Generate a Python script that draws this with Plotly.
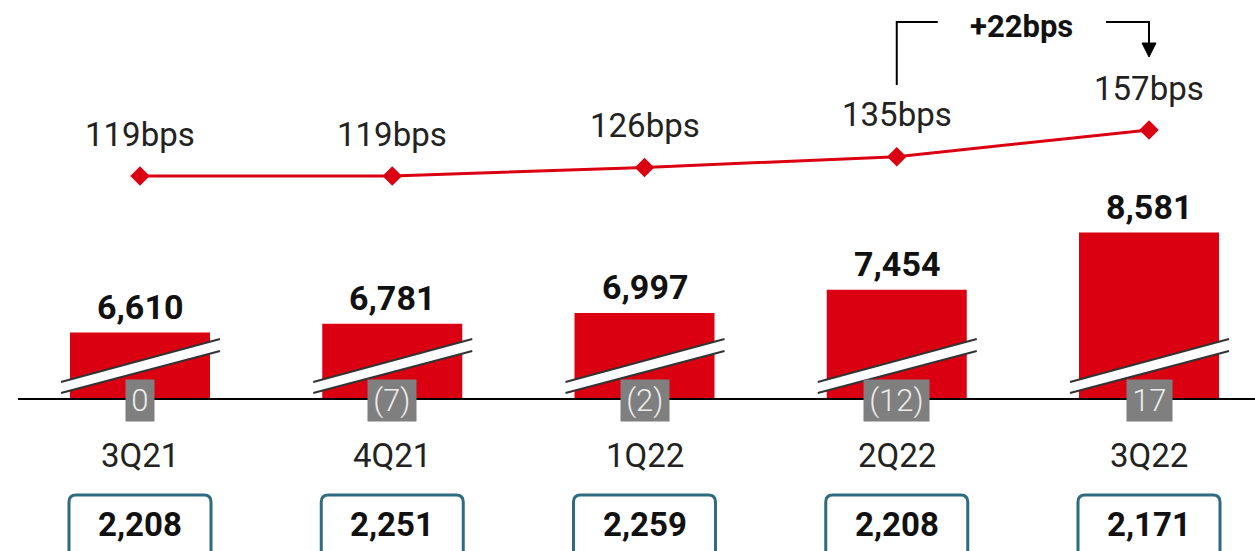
import plotly.graph_objects as go

categories = ["3Q21", "4Q21", "1Q22", "2Q22", "3Q22"]
bar_values = [6610, 6781, 6997, 7454, 8581]
bps_values = [119, 119, 126, 135, 157]
gray_labels = ["0", "(7)", "(2)", "(12)", "17"]
box_values = [2208, 2251, 2259, 2208, 2171]
change_label = "+22bps"

RED = "#db0011"
FONT = "Roboto"
W, H = 1255, 551
BASE = 5300  # broken axis base

x = list(range(len(categories)))


def py(px):
    """pixel row -> paper y"""
    return 1 - px / H


def pxw(px):
    """pixel width -> x data units"""
    return px / 252.25


fig = go.Figure()
fig.add_trace(go.Bar(
    x=x, y=[v - BASE for v in bar_values], base=BASE,
    width=pxw(140), marker=dict(color=RED, line=dict(width=0)),
    hoverinfo="skip",
))
fig.add_trace(go.Scatter(
    x=x, y=bps_values, yaxis="y2", mode="lines+markers",
    line=dict(color=RED, width=3),
    marker=dict(symbol="diamond", size=15, color=RED),
    hoverinfo="skip",
))

shapes = []
annotations = []
for i, c in enumerate(x):
    # break marks
    xl, xr = c - pxw(79), c + pxw(80)
    shapes.append(dict(type="path", xref="x", yref="paper",
                       path=f"M {xl} {py(382)} L {xr} {py(339)} L {xr} {py(351)} L {xl} {py(393)} Z",
                       fillcolor="white", line=dict(width=0)))
    for a, b in [(382, 339), (393, 351)]:
        shapes.append(dict(type="line", xref="x", yref="paper",
                           x0=xl, y0=py(a), x1=xr, y1=py(b),
                           line=dict(color="#333333", width=2)))
    # bottom rounded boxes
    bl, br = c - pxw(71), c + pxw(71)
    r = pxw(7)
    top, bot = py(495), py(570)
    rr = 7 / H
    shapes.append(dict(type="path", xref="x", yref="paper",
                       path=(f"M {bl} {bot} L {bl} {top - rr} Q {bl} {top} {bl + r} {top} "
                             f"L {br - r} {top} Q {br} {top} {br} {top - rr} L {br} {bot}"),
                       line=dict(color="#2f6b80", width=3)))
    annotations.append(dict(x=c, y=py(524), xref="x", yref="paper", text=f"<b>{box_values[i]:,}</b>",
                            showarrow=False, font=dict(family=FONT, size=33, color="#111111"),
                            yanchor="middle"))
    # value labels
    annotations.append(dict(x=c, y=bar_values[i], xref="x", yref="y", text=f"<b>{bar_values[i]:,}</b>",
                            showarrow=False, font=dict(family=FONT, size=34, color="#111111"),
                            yanchor="middle", yshift=26))
    # bps labels
    annotations.append(dict(x=c, y=bps_values[i], xref="x", yref="y2", text=f"{bps_values[i]}bps",
                            showarrow=False, font=dict(family=FONT, size=33, color="#222222"),
                            yanchor="middle", yshift=42))
    # category labels
    annotations.append(dict(x=c, y=py(455), xref="x", yref="paper", text=categories[i],
                            showarrow=False, font=dict(family=FONT, size=33, color="#222222"),
                            yanchor="middle"))
    # gray boxes
    annotations.append(dict(x=c, y=BASE, xref="x", yref="y", text="\u200a" + gray_labels[i] + "\u200a",
                            showarrow=False, font=dict(family=FONT, size=31, color="#ececec", weight=300),
                            bgcolor="#7f7f7f", borderpad=2, yanchor="middle", yshift=-1))

# baseline
shapes.append(dict(type="line", xref="paper", yref="y", x0=18 / W, x1=1, y0=BASE, y1=BASE,
                   line=dict(color="black", width=2)))

# change bracket
c3, c4 = x[3], x[4]
shapes.append(dict(type="path", xref="x", yref="paper",
                   path=f"M {c3} {py(85)} L {c3} {py(22)} L {c3 + pxw(41)} {py(22)}",
                   line=dict(color="black", width=2)))
shapes.append(dict(type="path", xref="x", yref="paper",
                   path=f"M {c4 - pxw(43)} {py(22)} L {c4} {py(22)} L {c4} {py(45)}",
                   line=dict(color="black", width=2)))
shapes.append(dict(type="path", xref="x", yref="paper",
                   path=f"M {c4 - pxw(7)} {py(43)} L {c4 + pxw(7)} {py(43)} L {c4} {py(57)} Z",
                   fillcolor="black", line=dict(color="black", width=1)))
annotations.append(dict(x=(c3 + pxw(41) + c4 - pxw(43)) / 2, y=py(26), xref="x", yref="paper",
                        text=f"<b>{change_label}</b>", showarrow=False,
                        font=dict(family=FONT, size=31, color="#111111"), yanchor="middle"))

fig.update_layout(
    width=W, height=H,
    margin=dict(l=0, r=0, t=0, b=0),
    paper_bgcolor="white", plot_bgcolor="white",
    showlegend=False,
    xaxis=dict(visible=False, range=[-pxw(140), 4 + pxw(W - 1149)]),
    yaxis=dict(visible=False, range=[BASE - 152 * 19.71, BASE + 399 * 19.71]),
    yaxis2=dict(visible=False, overlaying="y", range=[119 - 375 / 1.2105, 119 + 176 / 1.2105]),
    shapes=shapes,
    annotations=annotations,
)

fig.write_html("out.html", config={"displayModeBar": False},
               post_script="document.body.style.margin='0';document.body.style.overflow='hidden';")
